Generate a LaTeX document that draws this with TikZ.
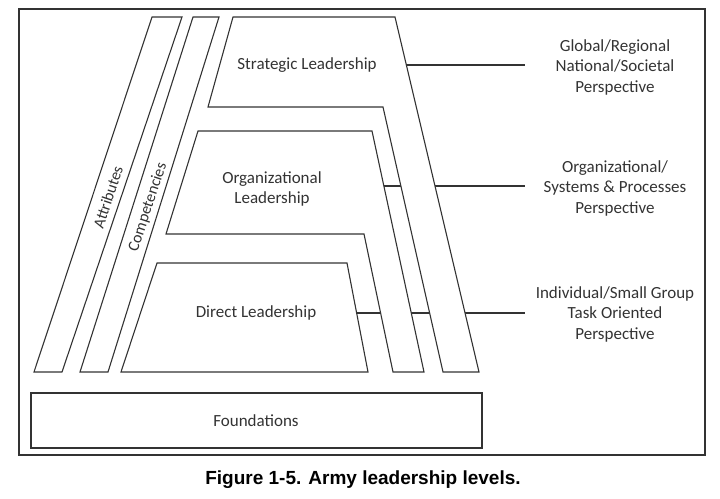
\documentclass[tikz,border=0pt]{standalone}
\usepackage{fontspec}
\setmainfont{Carlito}
\newfontfamily\captionfont{Liberation Sans}
\usepackage{xcolor}
\usetikzlibrary{backgrounds}
\definecolor{ink}{HTML}{333333}
\tikzset{
    level-shape/.style = {draw=ink, fill=white, line width=1.1pt},
    level-label/.style = {text=ink, font=\fontsize{17}{20.5}\selectfont, align=center},
    strip-label/.style = {text=ink, font=\fontsize{16}{19}\selectfont, rotate=71.6},
    perspective/.style = {text=ink, font=\fontsize{17}{20.5}\selectfont, align=center},
    link-line/.style = {draw=ink, line width=1.1pt},
}

\begin{document}
\begin{tikzpicture}[x=1pt, y=-1pt]
\useasboundingbox (0,0) rectangle (720,498);
\draw[ink, line width=2pt] (19,9) rectangle (705,455);
% strips
\draw[level-shape] (152,17) -- (182,17) -- (62,372) -- (34,372) -- cycle;
\draw[level-shape] (193,17) -- (219,17) -- (108,372) -- (80,372) -- cycle;
% levels
\draw[level-shape] (233,17) -- (395,17) -- (479,372) -- (443,372) -- (383,107) -- (208,107) -- cycle;
\draw[level-shape] (198,131) -- (372,131) -- (424,372) -- (393,372) -- (364,234) -- (166,234) -- cycle;
\draw[level-shape] (157,263) -- (347,263) -- (368,372) -- (121,372) -- cycle;
\draw[level-shape] (31,393) rectangle (482,448);
\node[level-label] (strategic) at (307,65) {Strategic Leadership};
\node[level-label] (organizational) at (272,189) {Organizational\\Leadership};
\node[level-label] (direct) at (256,313) {Direct Leadership};
\node[level-label] (foundations) at (256,421) {Foundations};
\node[strip-label] (attributes) at (108,197) {Attributes};
\node[strip-label] (competencies) at (148,207) {Competencies};
% perspectives
\node[perspective] (global) at (615,67) {Global/Regional\\National/Societal\\Perspective};
\node[perspective] (systems) at (615,188) {Organizational/\\Systems \& Processes\\Perspective};
\node[perspective] (task) at (615,314) {Individual/Small Group\\Task Oriented\\Perspective};
\coordinate (global-end) at (525,65);
\coordinate (systems-end) at (525,186);
\coordinate (task-end) at (525,313);
\begin{scope}[on background layer]
\draw[link-line] (strategic.east |- global-end) -- (global-end);
\draw[link-line] (organizational.east |- systems-end) -- (systems-end);
\draw[link-line] (direct.east |- task-end) -- (task-end);
\end{scope}
\node[font=\captionfont\bfseries\fontsize{19}{22}\selectfont] (caption) at (363,480) {Figure 1-5. Army leadership levels.};
\end{tikzpicture}
\end{document}
